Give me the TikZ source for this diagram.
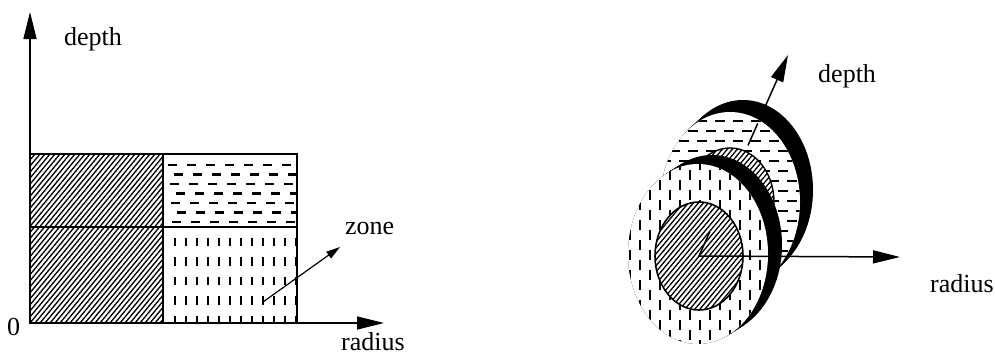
\documentclass[tikz,border=0pt]{standalone}
\usepackage{fontspec}
\setmainfont{Liberation Serif}
\usetikzlibrary{arrows.meta,calc}

\begin{document}
\begin{tikzpicture}[x=1pt,y=-1pt,
  axis/.style={line width=1.5pt,-{Triangle[length=27pt,width=13pt]}},
  lbl/.style={inner sep=0pt,anchor=base west,font=\fontsize{26}{30}\selectfont},
  hatchline/.style={line width=1.3pt},
  hdash/.style={line width=2.6pt,dash pattern=on 9pt off 10pt},
  vdash/.style={line width=2.6pt,dash pattern=on 8.5pt off 11pt},
  rdash/.style={line width=2.4pt,dash pattern=on 10pt off 10pt},
  rdashh/.style={line width=2.4pt,dash pattern=on 10pt off 8pt}]
\useasboundingbox (0,0) rectangle (995,356);

% ---------------- zone grid: radius x depth ----------------
\coordinate (O1) at (30,323);
\coordinate (Ytip) at (30,12);
\coordinate (Xtip) at (384,323);

% inner column, hatched
\begin{scope}
  \clip (30,154) rectangle (163,323);
  \foreach \x in {-140,-135,...,170}
    \draw[hatchline] (\x,323) -- ++(140,-169);
\end{scope}

% outer, shallow cell: horizontal dashes
\begin{scope}
  \clip (163,154) rectangle (297,227);
  \foreach \y/\s in {165/0,174.5/6,184/2,193.5/8,203/3,212.5/9,222/4}
    \draw[hdash] (168+\s,\y) -- (310,\y);
\end{scope}

% outer, deep cell: vertical dashes
\begin{scope}
  \clip (163,227) rectangle (297,323);
  \foreach \x in {175,186,...,296}
    \draw[vdash] (\x,218) -- (\x,330);
\end{scope}

% cell borders
\draw[line width=1.8pt] (30,154) rectangle (297,323);
\draw[line width=1.4pt] (163,154) -- (163,323);
\draw[line width=1.4pt] (30,227) -- (297,227);
\draw[line width=2.8pt] (30,323) -- (297,323);

% axes
\draw[axis] (O1) -- (Ytip);
\draw[axis] (O1) -- (Xtip);

% zone pointer
\coordinate (Zs) at (263,302);
\coordinate (Ze) at (340,247);
\draw[line width=1.2pt,-{Triangle[length=14pt,width=8pt]}] (Zs) -- (Ze);

\node[lbl] (ldepth) at (64,45) {depth};
\node[lbl] (lzero) at (7,335) {0};
\node[lbl] (lzone) at (345,234) {zone};
\node[lbl] (lradius) at (341,350) {radius};

% ---------------- layered cylinder ----------------
\coordinate (O2) at (699,256);
\coordinate (Dtip) at (788,55);
\coordinate (Rtip) at (900,257);
\coordinate (B) at (730,202);
\coordinate (F) at (698,254);

% depth axis (mostly hidden behind the layers)
\draw[axis] (O2) -- (Dtip);

% back layer: rim
\foreach \t in {0,1,...,13}
  \fill (730+\t,202-\t*12/13) ellipse [x radius=70,y radius=90];
% back layer: face with horizontal dashes
\fill[white] (B) ellipse [x radius=70,y radius=90];
\begin{scope}
  \clip (B) ellipse [x radius=70,y radius=90];
  \foreach \y [count=\i] in {121,131,...,301} {
    \pgfmathsetmacro\s{mod(\i,2)*9}
    \draw[rdashh] (652+\s,\y) -- (810,\y);
  }
\end{scope}
% back layer: inner hatched core
\fill[white] (B) ellipse [x radius=44,y radius=54];
\begin{scope}
  \clip (B) ellipse [x radius=44,y radius=54];
  \foreach \x in {620,625,...,790}
    \draw[hatchline] (\x,260) -- ++(100,-120);
\end{scope}
\draw[line width=1.4pt] (B) ellipse [x radius=44,y radius=54];

% front layer: rim
\foreach \t in {0,1,...,14}
  \fill (698+\t,254-\t*9/14) ellipse [x radius=70,y radius=90];
% front layer: face with vertical dashes
\fill[white] (F) ellipse [x radius=70,y radius=90];
\begin{scope}
  \clip (F) ellipse [x radius=70,y radius=90];
  \foreach \x [count=\i] in {630,640,...,770} {
    \pgfmathsetmacro\s{mod(\i,2)*10}
    \draw[rdash] (\x,160+\s) -- (\x,350);
  }
\end{scope}
% front layer: inner hatched core
\fill[white] (O2) ellipse [x radius=44,y radius=54];
\begin{scope}
  \clip (O2) ellipse [x radius=44,y radius=54];
  \foreach \x in {590,595,...,760}
    \draw[hatchline] (\x,315) -- ++(100,-120);
\end{scope}
\draw[line width=1.6pt] (O2) ellipse [x radius=44,y radius=54];

% visible pieces of the depth axis
\draw[line width=1.5pt] (O2) -- ($(O2)!0.12!(Dtip)$);
\draw[line width=1.5pt] ($(O2)!0.55!(Dtip)$) -- ($(O2)!0.66!(Dtip)$);

% radius axis
\draw[axis] (O2) -- (Rtip);

\node[lbl] (rdepth) at (818,82) {depth};
\node[lbl] (rradius) at (930,292) {radius};
\end{tikzpicture}
\end{document}
